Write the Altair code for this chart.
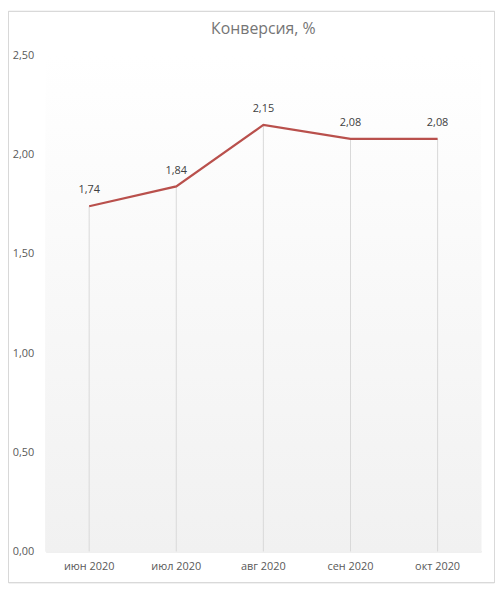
import altair as alt
import pandas as pd

months = ["июн 2020", "июл 2020", "авг 2020", "сен 2020", "окт 2020"]
values = [1.74, 1.84, 2.15, 2.08, 2.08]
labels = ["1,74", "1,84", "2,15", "2,08", "2,08"]
y_ticks = [0, 0.5, 1.0, 1.5, 2.0, 2.5]
title_text = ["Конверсия, %"]

df = pd.DataFrame({"month": months, "value": values, "label": labels})
tdf = pd.DataFrame({"t": title_text})

W, H = 440, 501
FONT = "Open Sans"

xenc = alt.X("month:N", sort=months, title=None,
             scale=alt.Scale(paddingInner=0, paddingOuter=0),
             axis=alt.Axis(labelAngle=0, ticks=False, domain=True, domainColor="#d9d9d9",
                           labelColor="#595959", labelFont=FONT, labelFontSize=11,
                           labelPadding=9, grid=False))
yscale = alt.Scale(domain=[0, 2.5])
yenc = alt.Y("value:Q", scale=yscale, title=None,
             axis=alt.Axis(values=y_ticks, ticks=False, domain=False, grid=False,
                           labelExpr="replace(format(datum.value, '.2f'), '.', ',')",
                           labelColor="#595959", labelFont=FONT, labelFontSize=11,
                           labelPadding=12))

bg = alt.Chart(df).mark_rect(
    color=alt.Gradient(gradient="linear", x1=0, y1=0, x2=0, y2=1,
                       stops=[alt.GradientStop(color="#ffffff", offset=0),
                              alt.GradientStop(color="#f1f1f1", offset=1)])
).encode(x=alt.value(0), x2=alt.value(W), y=alt.value(0), y2=alt.value(H))

border = alt.Chart(df).mark_rect(fill=None, stroke="#d9d9d9", strokeWidth=1, clip=False).encode(
    x=alt.value(-37.5), x2=alt.value(W + 13.5), y=alt.value(-44.5), y2=alt.value(H + 31.5))

title = alt.Chart(tdf).mark_text(font=FONT, fontSize=16, color="#757575",
                                 baseline="middle", align="center").encode(
    x=alt.value(W / 2), y=alt.value(-27), text="t:N")

drops = alt.Chart(df).mark_rule(color="#d9d9d9", strokeWidth=1).encode(
    x=xenc, y=yenc, y2=alt.datum(0))

line = alt.Chart(df).mark_line(color="#b9504c", strokeWidth=2.2).encode(x=xenc, y=yenc)

text = alt.Chart(df).mark_text(dy=-16, color="#404040", font=FONT, fontSize=11).encode(
    x=xenc, y=yenc, text="label:N")

chart = alt.layer(bg, border, title, drops, line, text).properties(
    width=W, height=H,
    padding={"left": 38, "top": 45, "right": 15, "bottom": 35},
    autosize=alt.AutoSizeParams(type="none"),
).configure_view(stroke=None)

chart.save("out.html", embed_options={"renderer": "svg", "actions": False})
